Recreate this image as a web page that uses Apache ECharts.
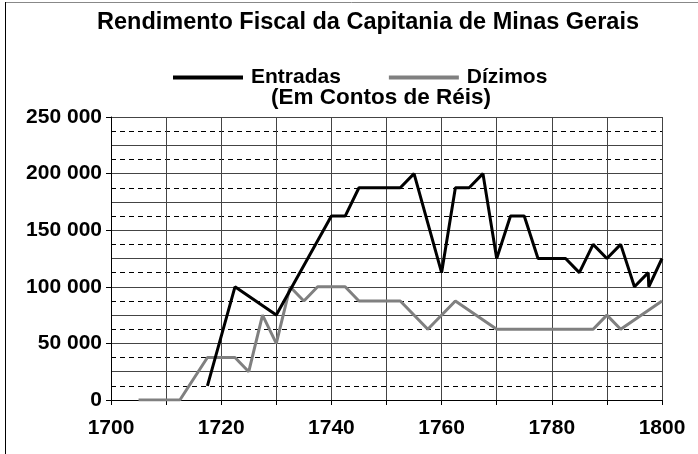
<!DOCTYPE html>
<html>
<head>
<meta charset="utf-8">
<script src="https://cdn.jsdelivr.net/npm/echarts@6/dist/echarts.min.js"></script>
<style>
html,body{margin:0;padding:0;background:#fff;}
#chart{width:698px;height:454px;}
</style>
</head>
<body>
<div id="chart"></div>
<script>
var titleText = 'Rendimento Fiscal da Capitania de Minas Gerais';
var subtitleText = '(Em Contos de Réis)';
var seriesNames = ['Entradas', 'Dízimos'];

var entradasYears = [1717.5, 1722.5, 1730, 1740, 1742.5, 1745, 1752.5, 1755, 1760, 1762.5, 1765, 1767.5, 1770, 1772.5, 1775, 1777.5, 1782.5, 1785, 1787.5, 1790, 1792.5, 1795, 1797.5, 1797.6, 1800];
var entradasValues = [12500, 100000, 75000, 162500, 162500, 187500, 187500, 200000, 112500, 187500, 187500, 200000, 125000, 162500, 162500, 125000, 125000, 112500, 137500, 125000, 137500, 100000, 112500, 100000, 125000];

var dizimosYears = [1705, 1712.5, 1717.5, 1722.5, 1725, 1727.5, 1730, 1732.5, 1735, 1737.5, 1742.5, 1745, 1752.5, 1757.5, 1762.5, 1770, 1787.5, 1790, 1792.5, 1800];
var dizimosValues = [0, 0, 37500, 37500, 25000, 75000, 50000, 100000, 87500, 100000, 100000, 87500, 87500, 62500, 87500, 62500, 62500, 75000, 62500, 87500];

var xTickLabels = [1700, 1720, 1740, 1760, 1780, 1800];
var yTickLabels = ['0', '50 000', '100 000', '150 000', '200 000', '250 000'];

function pairs(xs, ys) { return xs.map(function (x, i) { return [x, ys[i]]; }); }

var FONT = 'Liberation Sans';
var chart = echarts.init(document.getElementById('chart'), null, {renderer: 'canvas'});
chart.setOption({
  backgroundColor: '#fff',
  animation: false,
  title: [
    {text: titleText, left: 368, top: 11, textAlign: 'center', padding: 0,
     textStyle: {fontFamily: FONT, fontSize: 23.5, fontWeight: 'bold', color: '#000'}},
    {text: subtitleText, left: 381, top: 86, textAlign: 'center', padding: 0,
     textStyle: {fontFamily: FONT, fontSize: 22.5, fontWeight: 'bold', color: '#000'}}
  ],
  legend: {
    left: 173, top: 67, padding: 0, icon: 'rect', itemWidth: 70, itemHeight: 4, itemGap: 48,
    textStyle: {fontFamily: FONT, fontSize: 21, fontWeight: 'bold', color: '#000', padding: [0, 0, 0, 3]},
    data: seriesNames
  },
  graphic: [
    {type: 'line', shape: {x1: 5, y1: 2.5, x2: 698, y2: 2.5}, style: {stroke: '#888', lineWidth: 1}},
    {type: 'line', shape: {x1: 5.5, y1: 2, x2: 5.5, y2: 454}, style: {stroke: '#000', lineWidth: 1}}
  ],
  grid: {left: 111, right: 36, top: 117, bottom: 54},
  xAxis: {
    type: 'value', min: 1700, max: 1800, interval: 10,
    axisLine: {show: true, lineStyle: {color: '#000', width: 1}},
    axisTick: {show: true, length: 5, lineStyle: {color: '#000'}},
    splitLine: {show: true, lineStyle: {color: '#444', width: 1, type: 'solid'}},
    axisLabel: {margin: 18, fontFamily: FONT, fontSize: 21, fontWeight: 'bold', color: '#000',
      formatter: function (v) { return xTickLabels.indexOf(v) >= 0 ? String(v) : ''; }}
  },
  yAxis: [
    {
      type: 'value', min: 0, max: 250000, interval: 25000, position: 'left',
      axisLine: {show: true, lineStyle: {color: '#000', width: 1}},
      axisTick: {show: false},
      axisLabel: {show: false},
      splitLine: {show: true, lineStyle: {color: '#444', width: 1, type: 'solid'}},
      minorTick: {show: false, splitNumber: 2},
      minorSplitLine: {show: true, lineStyle: {color: '#000', width: 1, type: [5, 4]}}
    },
    {
      type: 'value', min: 0, max: 250000, interval: 50000, position: 'left',
      axisLine: {show: false},
      axisTick: {show: true, length: 5, lineStyle: {color: '#000'}},
      splitLine: {show: false},
      axisLabel: {margin: 9, fontFamily: FONT, fontSize: 21, fontWeight: 'bold', color: '#000',
        formatter: function (v) { return yTickLabels[Math.round(v / 50000)]; }}
    }
  ],
  series: [
    {name: seriesNames[0], type: 'line', yAxisIndex: 0, data: pairs(entradasYears, entradasValues),
     showSymbol: false, symbol: 'none', color: '#000', lineStyle: {color: '#000', width: 3}, z: 3},
    {name: seriesNames[1], type: 'line', yAxisIndex: 0, data: pairs(dizimosYears, dizimosValues),
     showSymbol: false, symbol: 'none', color: '#808080', lineStyle: {color: '#808080', width: 3}, z: 2}
  ]
});
</script>
</body>
</html>
